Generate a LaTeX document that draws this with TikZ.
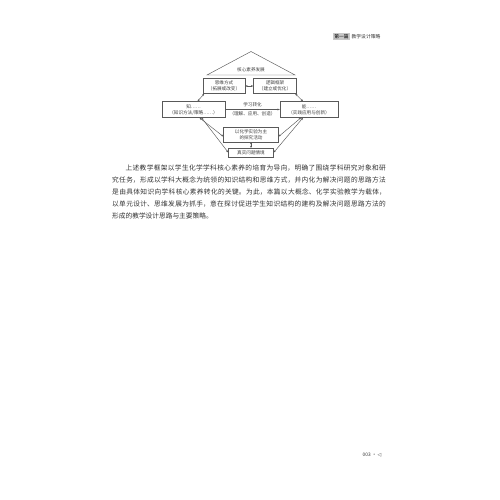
\documentclass[tikz,border=0pt]{standalone}
\usepackage{fontspec}
\setmainfont{Noto Sans CJK SC}
\newfontfamily\symfont{DejaVu Sans}
\usetikzlibrary{arrows.meta}
\XeTeXlinebreaklocale "zh"
\XeTeXlinebreakskip=0pt plus 2pt
\tikzset{
  frame/.style={draw=black!65, line width=0.45pt, inner sep=0pt, align=center,
    font=\fontsize{4.6}{6}\selectfont, text=black!75},
  tag/.style={inner sep=0pt, font=\fontsize{4.6}{6}\selectfont, text=black!75},
  link/.style={draw=black!65, line width=0.45pt},
}
\begin{document}
\begin{tikzpicture}[x=1pt, y=-1pt, >={Stealth[length=2.4pt,width=1.9pt]}]
    \useasboundingbox[fill=white] (0,0) rectangle (500,500);
    % page head
    \node[fill=black!22, inner sep=1pt, font=\fontsize{4.8}{5}\selectfont] (part) at (341.5,36.3) {第一篇};
    \node[anchor=west, inner sep=1.5pt, font=\fontsize{4.8}{5}\selectfont, text=black!80] (parttitle) at (part.east) {教学设计策略};
    % roof
    \coordinate (roofl) at (207,75);
    \coordinate (rooft) at (251,51.5);
    \coordinate (roofr) at (295,75);
    \draw[link] (roofl) -- (rooft) -- (roofr) -- cycle;
    \node[tag] (core) at (251,69.5) {核心素养发展};
    % boxes
    \node[frame, minimum width=42pt, minimum height=15pt] (think) at (224,86) {思维方式\\（拓展或改变）};
    \node[frame, minimum width=43pt, minimum height=15pt] (logic) at (275,86) {逻辑框架\\（建立或优化）};
    \node[frame, minimum width=63pt, minimum height=16pt] (know) at (193.5,109.5) {知……\\（知识方法/策略……）};
    \node[frame, minimum width=58pt, minimum height=16pt] (able) at (309,109.5) {能……\\（实践应用与创新）};
    \node[frame, minimum width=55pt, minimum height=14.5pt] (exp) at (251,134.5) {以化学实验为主\\的探究活动};
    \node[frame, minimum width=45pt, minimum height=8.5pt] (real) at (251,152.5) {真实问题情境};
    % links
    \draw[link, <->] (think.east) -- (logic.west);
    \draw[link, <->] ([xshift=1.5pt]think.south west) -- ([xshift=4pt]know.north);
    \draw[link, <->] ([xshift=-1.5pt]logic.south east) -- ([xshift=-6pt]able.north);
    \draw[link, ->] (know.east) -- (able.west)
        node[tag, midway, above=2pt] (learn) {学习转化}
        node[tag, midway, below=2pt] (learnsub) {（理解、应用、创造）};
    \draw[link, <->] ([xshift=6pt]know.south) -- ([yshift=-2pt]exp.west);
    \draw[link, <->] ([xshift=8pt]know.south) -- (real.west);
    \draw[link, <->] ([xshift=-8pt]able.south) -- ([yshift=-2pt]exp.east);
    \draw[link, <->] ([xshift=-6pt]able.south) -- (real.east);
    \draw[link, <->] (exp.south) -- (real.north);
    % text
    \node[anchor=north west, inner sep=0pt, text width=276pt, font=\fontsize{6.7}{12}\selectfont, text=black!80] (body) at (112,164.5)
        {\hspace*{2em}上述教学框架以学生化学学科核心素养的培育为导向，明确了围绕学科研究对象和研\linebreak
        究任务，形成以学科大概念为统领的知识结构和思维方式，并内化为解决问题的思路方法\linebreak
        是由具体知识向学科核心素养转化的关键。为此，本篇以大概念、化学实验教学为载体，\linebreak
        以单元设计、思维发展为抓手，意在探讨促进学生知识结构的建构及解决问题思路方法的\linebreak
        形成的教学设计思路与主要策略。};
    % page foot
    \node[inner sep=0pt, font=\fontsize{4.8}{5}\selectfont, text=black!80] (pageno) at (372,455) {003 · {\symfont ◁}};
\end{tikzpicture}
\end{document}
